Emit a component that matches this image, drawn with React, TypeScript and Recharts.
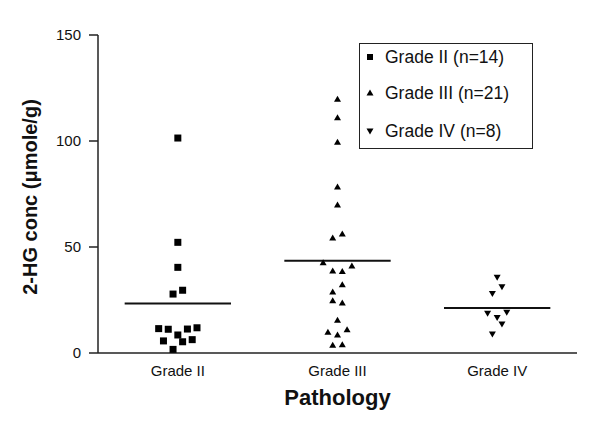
import React from "react";
import {
	ReferenceLine,
	Scatter,
	ScatterChart,
	XAxis,
	YAxis,
	Legend,
} from "recharts";

// categories and tick labels
const categories = ["Grade II", "Grade III", "Grade IV"];
const legendLabels = ["Grade II (n=14)", "Grade III (n=21)", "Grade IV (n=8)"];
const yTicks = [0, 50, 100, 150];

// 2-HG values, with horizontal spread (in marker steps)
const gradeIIValues = [101.4, 52.2, 40.4, 27.8, 29.6, 11.5, 11.2, 11.3, 11.9, 8.5, 5.7, 5.3, 6.3, 1.7];
const gradeIISpread = [0, 0, 0, -1, 1, -4, -2, 2, 4, 0, -3, 1, 3, -1];

const gradeIIIValues = [
	119.7, 111.0, 99.4, 78.3, 69.8, 54.2, 56.1, 42.6, 38.7, 38.4, 41.0, 32.2, 28.8, 24.7, 23.6, 15.4,
	9.8, 8.5, 11.0, 3.6, 3.9,
];
const gradeIIISpread = [0, 0, 0, 0, 0, -1, 1, -3, -1, 1, 3, 1, -1, -1, 1, 0, -2, 0, 2, -1, 1];

const gradeIVValues = [35.7, 31.3, 28.1, 18.7, 19.2, 16.8, 13.7, 9.0];
const gradeIVSpread = [0, 1, -1, -2, 2, 0, 1, -1];

// horizontal mean bars
const meanValues = [23.4, 43.5, 21.2];

const SPREAD_STEP = 0.03;
const BAR_HALF = 0.333;
const FONT = "Arial, 'Liberation Sans', Helvetica, sans-serif";

const toPoints = (values: number[], spread: number[], pos: number) =>
	values.map((v, i) => ({ x: pos + spread[i] * SPREAD_STEP, y: v }));

const gradeII = toPoints(gradeIIValues, gradeIISpread, 1);
const gradeIII = toPoints(gradeIIIValues, gradeIIISpread, 2);
const gradeIV = toPoints(gradeIVValues, gradeIVSpread, 3);

const SquareDot = (p: any) => (
	<rect x={p.cx - 3.5} y={p.cy - 3.5} width={7} height={7} fill="#000" />
);

const UpDot = (p: any) => (
	<polygon
		points={`${p.cx},${p.cy - 3.5} ${p.cx + 3.5},${p.cy + 2.5} ${p.cx - 3.5},${p.cy + 2.5}`}
		fill="#000"
	/>
);

const DownDot = (p: any) => (
	<polygon
		points={`${p.cx - 3.5},${p.cy - 2.5} ${p.cx + 3.5},${p.cy - 2.5} ${p.cx},${p.cy + 3.5}`}
		fill="#000"
	/>
);

function LegendBox() {
	const rows = [14, 50, 88];
	return (
		<svg width={175} height={107} style={{ display: "block" }}>
			<rect x={0.5} y={0.5} width={173} height={105} fill="#fff" stroke="#222" strokeWidth={1} />
			{legendLabels.map((label, i) => {
				const cy = rows[i];
				const mx = 11;
				let marker;
				if (i === 0) marker = <rect x={mx - 3} y={cy - 3} width={6} height={6} fill="#000" />;
				else if (i === 1)
					marker = (
						<polygon points={`${mx},${cy - 3.5} ${mx + 3.5},${cy + 2.5} ${mx - 3.5},${cy + 2.5}`} fill="#000" />
					);
				else
					marker = (
						<polygon points={`${mx - 3.5},${cy - 2.5} ${mx + 3.5},${cy - 2.5} ${mx},${cy + 3.5}`} fill="#000" />
					);
				return (
					<g key={label}>
						{marker}
						<text x={26} y={cy + 6} fontSize={17.5} fill="#111" fontFamily={FONT}>
							{label}
						</text>
					</g>
				);
			})}
		</svg>
	);
}

export default function App() {
	return (
		<div style={{ position: "absolute", left: 0, top: 0, background: "#fff" }}>
			<ScatterChart width={600} height={422} margin={{ top: 35, right: 23, bottom: 0, left: 38 }}>
				<XAxis
					type="number"
					dataKey="x"
					domain={[0.5, 3.5]}
					ticks={[1, 2, 3]}
					tickFormatter={(v: number) => categories[v - 1]}
					height={69}
					tickLine={false}
					tickSize={6}
					tickMargin={6}
					stroke="#222"
					strokeWidth={1.5}
					tick={{ fill: "#111", fontSize: 15, fontFamily: FONT }}
					label={{
						content: ({ viewBox }: any) => (
							<text
								x={viewBox.x + viewBox.width / 2}
								y={viewBox.y + 52}
								textAnchor="middle"
								fontSize={22}
								fontWeight="bold"
								fontFamily={FONT}
								fill="#111"
							>
								Pathology
							</text>
						),
					}}
				/>
				<YAxis
					type="number"
					dataKey="y"
					domain={[0, 150]}
					ticks={yTicks}
					width={60}
					tickSize={9}
					tickMargin={8}
					stroke="#222"
					strokeWidth={1.5}
					tick={{ fill: "#111", fontSize: 15, fontFamily: FONT }}
					label={{
						content: () => (
							<text
								x={37}
								y={197}
								transform="rotate(-90, 37, 197)"
								textAnchor="middle"
								fontSize={20}
								fontWeight="bold"
								fontFamily={FONT}
								fill="#111"
							>
								2-HG conc (μmole/g)
							</text>
						),
					}}
				/>
				<Legend
					layout="horizontal"
					verticalAlign="middle"
					align="center"
					content={() => <LegendBox />}
					wrapperStyle={{ left: 359, top: 43, width: 175, height: 107 }}
				/>
				<Scatter name={legendLabels[0]} data={gradeII} shape={SquareDot} isAnimationActive={false} />
				<Scatter name={legendLabels[1]} data={gradeIII} shape={UpDot} isAnimationActive={false} />
				<Scatter name={legendLabels[2]} data={gradeIV} shape={DownDot} isAnimationActive={false} />
				{meanValues.map((m, i) => (
					<ReferenceLine
						key={categories[i]}
						segment={[
							{ x: i + 1 - BAR_HALF, y: m },
							{ x: i + 1 + BAR_HALF, y: m },
						]}
						stroke="#111"
						strokeWidth={2}
					/>
				))}
			</ScatterChart>
		</div>
	);
}
